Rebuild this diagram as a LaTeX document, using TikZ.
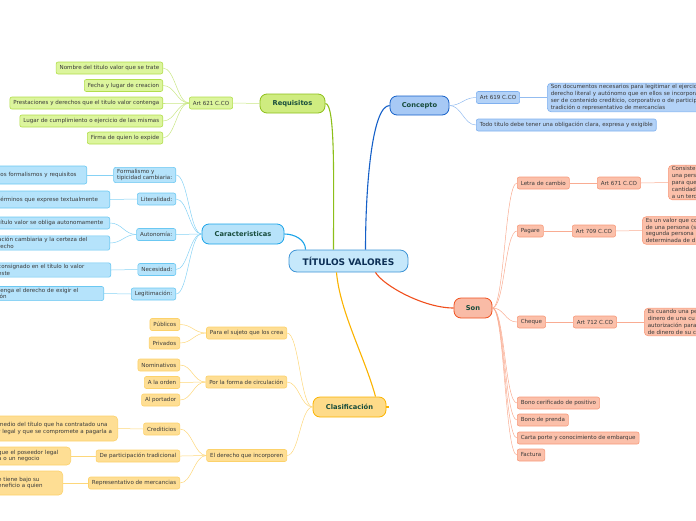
\documentclass[tikz,border=0pt]{standalone}
\usepackage{fontspec}
\setmainfont{DejaVu Sans}
\usepackage{xcolor}
\definecolor{RootFill}{HTML}{C6E8FB}
\definecolor{RootEdge}{HTML}{3F95D6}
\definecolor{RootText}{HTML}{0C2F55}
\definecolor{TopicText}{HTML}{174C3C}
\definecolor{LeafText}{HTML}{3A3A3A}
\definecolor{ReqLine}{HTML}{8DBF1A}
\definecolor{ReqFill}{HTML}{CFEC80}
\definecolor{ReqLeaf}{HTML}{DCF59D}
\definecolor{ReqEdge}{HTML}{B2DE4C}
\definecolor{ReqTwig}{HTML}{C9E784}
\definecolor{ConLine}{HTML}{1560C8}
\definecolor{ConFill}{HTML}{A7C9F5}
\definecolor{ConLeaf}{HTML}{B3D2F7}
\definecolor{ConEdge}{HTML}{7FB0EF}
\definecolor{ConTwig}{HTML}{93BCF0}
\definecolor{CarLine}{HTML}{1AA3E8}
\definecolor{CarFill}{HTML}{B7E3FA}
\definecolor{CarLeaf}{HTML}{B5E3FB}
\definecolor{CarEdge}{HTML}{6BC8F2}
\definecolor{CarTwig}{HTML}{86D2F5}
\definecolor{SonLine}{HTML}{F0501E}
\definecolor{SonFill}{HTML}{F9BBA6}
\definecolor{SonLeaf}{HTML}{FBC0AA}
\definecolor{SonEdge}{HTML}{F79A7B}
\definecolor{SonTwig}{HTML}{F9AC92}
\definecolor{ClaLine}{HTML}{FBB300}
\definecolor{ClaFill}{HTML}{FEDB89}
\definecolor{ClaLeaf}{HTML}{FEDE94}
\definecolor{ClaEdge}{HTML}{FCD26B}
\definecolor{ClaTwig}{HTML}{FDD77A}
\usepackage{tikz}
\usetikzlibrary{positioning}

\begin{document}
\begin{tikzpicture}[x=1pt,y=-1pt,
  topic/.style={draw,rounded corners=7pt,line width=0.8pt,font=\bfseries\fontsize{6.7}{8}\selectfont,text=TopicText,minimum height=19pt,inner xsep=6pt},
  sub/.style={draw,rounded corners=2pt,line width=0.6pt,font=\fontsize{5.55}{6.8}\selectfont,text=LeafText,minimum height=12pt,inner xsep=3.5pt,inner ysep=1.5pt,align=left},
  cut/.style={sub,anchor=east},
  branch/.style={line width=1.1pt},
  twig/.style={line width=0.5pt},
  fanL/.style={twig,out=180,in=0,distance=12pt},
  fanR/.style={twig,out=0,in=180,distance=12pt}
]
  \useasboundingbox (0,0) rectangle (696,520);
  \clip (0,0) rectangle (696,520);

  % centre and main topics
  \node[draw,rounded corners=8pt,line width=0.8pt,fill=RootFill,draw=RootEdge,text=RootText,font=\bfseries\fontsize{9}{10}\selectfont,minimum width=119pt,minimum height=22pt] (root) at (348.5,261) {TÍTULOS VALORES};
  \node[topic,fill=ReqFill,draw=ReqLine,minimum width=65pt] (req) at (292.5,103.5) {Requisitos};
  \node[topic,fill=ConFill,draw=ConLine,minimum width=59pt] (con) at (419.5,105.5) {Concepto};
  \node[topic,fill=CarFill,draw=CarLine,minimum width=82pt,minimum height=20pt] (car) at (243,234) {Caracteristicas};
  \node[topic,fill=SonFill,draw=SonLine,minimum width=38pt,minimum height=20pt] (son) at (473,308) {Son};
  \node[topic,fill=ClaFill,draw=ClaLine,minimum width=73pt,minimum height=20pt] (cla) at (349.5,407) {Clasificación};
  \coordinate (claend) at (389,407);

  \draw[branch,ReqLine] (req.east) to[out=0,in=90,out distance=10pt,in distance=70pt] ([xshift=-15pt]root.north);
  \draw[branch,ConLine] ([xshift=17pt]root.north) to[out=90,in=180,out distance=60pt,in distance=18pt] (con.west);
  \draw[branch,CarLine] (car.east) to[out=0,in=90,distance=10pt] ([xshift=-43pt]root.north);
  \draw[branch,SonLine] ([xshift=27pt]root.south) to[out=-60,in=180,out distance=15pt,in distance=30pt] (son.west);
  \draw[branch,ClaLine] ([xshift=-12pt]root.south) to[out=-85,in=105,distance=40pt] ([xshift=26pt]cla.north);
  \draw[branch,ClaLine] (cla.east) -- (claend);

  % Requisitos
  \node[sub,fill=ReqLeaf,draw=ReqEdge] (art621) at (211,103) {Art 621 C.CO};
  \node[sub,fill=ReqLeaf,draw=ReqEdge,anchor=east] (nombre) at (163,68) {Nombre del titulo valor que se trate};
  \node[sub,fill=ReqLeaf,draw=ReqEdge,anchor=east] (fecha) at (163,85.5) {Fecha y lugar de creacion};
  \node[sub,fill=ReqLeaf,draw=ReqEdge,anchor=east] (prest) at (163,103) {Prestaciones y derechos que el titulo valor contenga};
  \node[sub,fill=ReqLeaf,draw=ReqEdge,anchor=east] (lugar) at (163,121) {Lugar de cumplimiento o ejercicio de las mismas};
  \node[sub,fill=ReqLeaf,draw=ReqEdge,anchor=east] (firma) at (163,138) {Firma de quien lo expide};
  \draw[twig,ReqTwig] (req.west) -- (art621.east);
  \foreach \n in {nombre,fecha,prest,lugar,firma}
    \draw[fanL,ReqTwig] (art621.west) to (\n.east);

  % Concepto
  \node[sub,fill=ConLeaf,draw=ConEdge] (art619) at (498,97.5) {Art 619 C.CO};
  \node[sub,fill=ConLeaf,draw=ConEdge,anchor=west] (todo) at (476,125) {Todo titulo debe tener una obligación clara, expresa y exigible};
  \node[sub,fill=ConLeaf,draw=ConEdge,anchor=west,text width=200pt,rounded corners=4pt] (conlong) at (547,97.5) {Son documentos necesarios para legitimar el ejercicio\\derecho literal y autónomo que en ellos se incorpora\\ser de contenido crediticio, corporativo o de participa\\tradición o representativo de mercancías};
  \draw[fanR,ConTwig] (con.east) to (art619.west);
  \draw[fanR,ConTwig] (con.east) to (todo.west);
  \draw[twig,ConTwig] (art619.east) -- (conlong.west);

  % Caracteristicas
  \node[sub,fill=CarLeaf,draw=CarEdge,anchor=east] (formal) at (176,175) {Formalismo y\\tipicidad cambiaria:};
  \node[sub,fill=CarLeaf,draw=CarEdge,anchor=east] (lit) at (176,199) {Literalidad:};
  \node[sub,fill=CarLeaf,draw=CarEdge,anchor=east] (aut) at (176,234.5) {Autonomía:};
  \node[sub,fill=CarLeaf,draw=CarEdge,anchor=east] (nec) at (176,269.5) {Necesidad:};
  \node[sub,fill=CarLeaf,draw=CarEdge,anchor=east] (leg) at (176,294) {Legitimación:};
  \node[cut,fill=CarLeaf,draw=CarEdge,text width=85pt,minimum height=18pt] (formaltx) at (87,175) {tos formalismos y requisitos};
  \node[cut,fill=CarLeaf,draw=CarEdge,text width=108pt,minimum height=17pt] (littx) at (110,199.5) {términos que exprese textualmente};
  \node[cut,fill=CarLeaf,draw=CarEdge,text width=108pt] (auttxa) at (110,223) {título valor se obliga autonomamente};
  \node[cut,fill=CarLeaf,draw=CarEdge,text width=108pt] (auttxb) at (110,243) {ación cambiaria y la certeza del\\recho};
  \node[cut,fill=CarLeaf,draw=CarEdge,text width=109pt] (nectx) at (111,270) {consignado en el título lo valor\\ este};
  \node[cut,fill=CarLeaf,draw=CarEdge,text width=102pt] (legtx) at (104,293.5) {tenga el derecho de exigir el\\ión};
  \foreach \n in {formal,lit,aut,nec,leg}
    \draw[fanL,CarTwig] (car.west) to (\n.east);
  \draw[twig,CarTwig] (formal.west) -- (formaltx.east);
  \draw[twig,CarTwig] (lit.west) -- (littx.east);
  \draw[fanL,CarTwig] (aut.west) to (auttxa.east);
  \draw[fanL,CarTwig] (aut.west) to (auttxb.east);
  \draw[twig,CarTwig] (nec.west) -- (nectx.east);
  \draw[twig,CarTwig] (leg.west) -- (legtx.east);

  % Son
  \node[sub,fill=SonLeaf,draw=SonEdge,anchor=west] (letra) at (517,183) {Letra de cambio};
  \node[sub,fill=SonLeaf,draw=SonEdge,anchor=west] (art671) at (597,183) {Art 671 C.CO};
  \node[sub,fill=SonLeaf,draw=SonEdge,anchor=west,text width=60pt,rounded corners=4pt] (letratx) at (668,182.5) {Consiste\\una persona\\para que\\cantidad\\a un tercero};
  \node[sub,fill=SonLeaf,draw=SonEdge,anchor=west] (pagare) at (517,231) {Pagare};
  \node[sub,fill=SonLeaf,draw=SonEdge,anchor=west] (art709) at (572,231) {Art 709 C.CO};
  \node[sub,fill=SonLeaf,draw=SonEdge,anchor=west,text width=80pt,rounded corners=4pt] (pagaretx) at (642,230.5) {Es un valor que co\\de una persona (s\\segunda persona\\determinada de d};
  \node[sub,fill=SonLeaf,draw=SonEdge,anchor=west] (cheque) at (517,322) {Cheque};
  \node[sub,fill=SonLeaf,draw=SonEdge,anchor=west] (art712) at (573,322) {Art 712 C.CO};
  \node[sub,fill=SonLeaf,draw=SonEdge,anchor=west,text width=80pt,rounded corners=4pt] (chequetx) at (644,322) {Es cuando una pe\\dinero de una cu\\autorización para\\de dinero de su c};
  \node[sub,fill=SonLeaf,draw=SonEdge,anchor=west] (bono) at (517,403) {Bono cerificado de positivo};
  \node[sub,fill=SonLeaf,draw=SonEdge,anchor=west] (prenda) at (517,420) {Bono de prenda};
  \node[sub,fill=SonLeaf,draw=SonEdge,anchor=west] (carta) at (517,438) {Carta porte y conocimiento de embarque};
  \node[sub,fill=SonLeaf,draw=SonEdge,anchor=west] (factura) at (517,455) {Factura};
  \foreach \n in {letra,pagare,cheque,bono,prenda,carta,factura}
    \draw[fanR,SonTwig] (son.east) to (\n.west);
  \draw[twig,SonTwig] (letra.east) -- (art671.west);
  \draw[twig,SonTwig] (art671.east) -- (letratx.west);
  \draw[twig,SonTwig] (pagare.east) -- (art709.west);
  \draw[twig,SonTwig] (art709.east) -- (pagaretx.west);
  \draw[twig,SonTwig] (cheque.east) -- (art712.west);
  \draw[twig,SonTwig] (art712.east) -- (chequetx.west);

  % Clasificacion
  \node[sub,fill=ClaLeaf,draw=ClaEdge,anchor=east] (sujeto) at (287,333) {Para el sujeto que los crea};
  \node[sub,fill=ClaLeaf,draw=ClaEdge,anchor=east] (publicos) at (180,324.5) {Públicos};
  \node[sub,fill=ClaLeaf,draw=ClaEdge,anchor=east] (privados) at (180,343) {Privados};
  \node[sub,fill=ClaLeaf,draw=ClaEdge,anchor=east] (forma) at (287,382) {Por la forma de circulación};
  \node[sub,fill=ClaLeaf,draw=ClaEdge,anchor=east] (nomin) at (180,365) {Nominativos};
  \node[sub,fill=ClaLeaf,draw=ClaEdge,anchor=east] (orden) at (180,382.5) {A la orden};
  \node[sub,fill=ClaLeaf,draw=ClaEdge,anchor=east] (portador) at (180,400) {Al portador};
  \node[sub,fill=ClaLeaf,draw=ClaEdge,anchor=east] (derecho) at (287,455.5) {El derecho que incorporen};
  \node[sub,fill=ClaLeaf,draw=ClaEdge,anchor=east] (credit) at (180,429) {Crediticios};
  \node[sub,fill=ClaLeaf,draw=ClaEdge,anchor=east] (partic) at (180,456) {De participación tradicional};
  \node[sub,fill=ClaLeaf,draw=ClaEdge,anchor=east] (repres) at (180,483) {Representativo de mercancias};
  \node[cut,fill=ClaLeaf,draw=ClaEdge,text width=116pt,minimum height=25pt,rounded corners=4pt] (credittx) at (118,428.5) {medio del título que ha contratado una\\r legal y que se compromete a pagarla a};
  \node[cut,fill=ClaLeaf,draw=ClaEdge,text width=69pt,minimum height=18pt,rounded corners=4pt] (partictx) at (71,456) {que el poseedor legal\\a o un negocio};
  \node[cut,fill=ClaLeaf,draw=ClaEdge,text width=61pt,minimum height=24pt,rounded corners=4pt] (represtx) at (63,483) {e tiene bajo su\\eneficio a quien};
  \foreach \n in {sujeto,forma,derecho}
    \draw[fanL,ClaTwig] (cla.west) to (\n.east);
  \foreach \n in {publicos,privados}
    \draw[fanL,ClaTwig] (sujeto.west) to (\n.east);
  \foreach \n in {nomin,orden,portador}
    \draw[fanL,ClaTwig] (forma.west) to (\n.east);
  \foreach \n in {credit,partic,repres}
    \draw[fanL,ClaTwig] (derecho.west) to (\n.east);
  \draw[twig,ClaTwig] (credit.west) -- (credittx.east);
  \draw[twig,ClaTwig] (partic.west) -- (partictx.east);
  \draw[twig,ClaTwig] (repres.west) -- (represtx.east);
\end{tikzpicture}
\end{document}
